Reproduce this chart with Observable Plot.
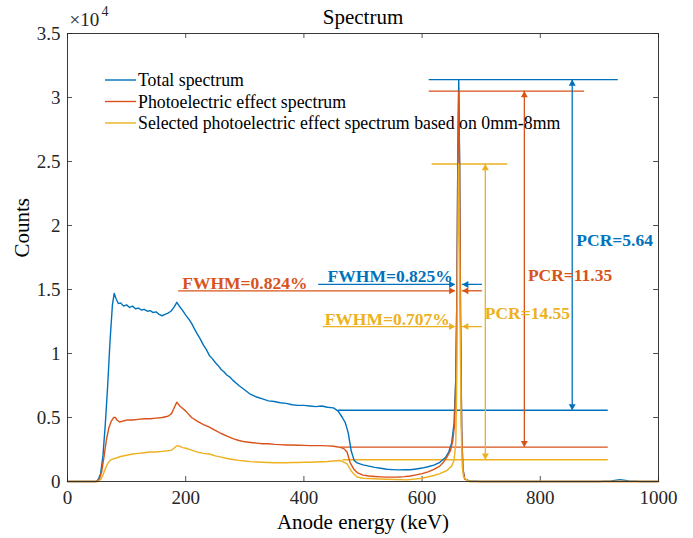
<!DOCTYPE html>
<html>
<head>
<meta charset="utf-8">
<script src="https://cdn.jsdelivr.net/npm/d3@7"></script>
<script src="https://cdn.jsdelivr.net/npm/@observablehq/plot@0.6"></script>
<style>
  body { margin: 0; background: #fff; }
  #chart svg { display: block; }
</style>
</head>
<body>
<div id="chart"></div>
<script>
// ---- Spectrum data (anode energy in keV, counts) ----
const totalE = [0, 48, 52, 56, 60, 64, 68, 72, 76, 79, 82, 86, 90, 95, 100, 105, 110, 115, 120, 125, 130, 135, 140, 145, 150, 155, 160, 165, 170, 175, 180, 185, 190, 195, 200, 205, 210, 215, 220, 225, 230, 235, 240, 245, 250, 255, 260, 265, 270, 275, 280, 290, 300, 310, 320, 330, 340, 350, 360, 370, 380, 390, 400, 410, 420, 430, 440, 450, 458, 465, 470, 475, 480, 485, 490, 500, 510, 520, 530, 540, 550, 560, 570, 580, 590, 600, 610, 620, 630, 640, 645, 650, 654, 657, 659, 660.5, 662, 663.5, 665, 667, 669, 672, 680, 700, 900, 920, 935, 950, 970, 1000];
const totalC = [0, 0, 150, 600, 2000, 4500, 7500, 11000, 13800, 14700, 14300, 13900, 13950, 13700, 13800, 13600, 13700, 13500, 13550, 13400, 13450, 13300, 13350, 13200, 13250, 13050, 12950, 13050, 13150, 13300, 13600, 14000, 13650, 13350, 13000, 12700, 12350, 11900, 11500, 11100, 10650, 10300, 9850, 9600, 9300, 9050, 8750, 8550, 8300, 8150, 7900, 7500, 7150, 6800, 6600, 6450, 6300, 6250, 6150, 6100, 6000, 5950, 5950, 5900, 5850, 5900, 5800, 5750, 5500, 5000, 4600, 3800, 2400, 1650, 1450, 1300, 1200, 1100, 1030, 960, 930, 910, 915, 920, 980, 1050, 1150, 1280, 1500, 1900, 2300, 3000, 4500, 8000, 15000, 26000, 31400, 25000, 13000, 4000, 1000, 200, 50, 0, 0, 50, 150, 50, 0, 0];

const photoE = [0, 50, 54, 58, 62, 66, 70, 74, 78, 81, 84, 88, 92, 96, 100, 110, 120, 130, 140, 150, 160, 170, 176, 180, 185, 190, 195, 200, 210, 220, 230, 240, 250, 260, 270, 280, 290, 300, 310, 320, 330, 340, 350, 360, 370, 380, 390, 400, 410, 420, 430, 440, 450, 458, 463, 468, 473, 478, 484, 490, 500, 510, 520, 530, 540, 550, 560, 570, 580, 590, 600, 610, 620, 630, 636, 642, 648, 652, 655, 657, 659, 660.5, 662, 663.5, 665, 667, 669, 672, 680, 1000];
const photoC = [0, 0, 200, 800, 2000, 3300, 4200, 4700, 5000, 5000, 4800, 4650, 4700, 4750, 4800, 4800, 4850, 4900, 4900, 4950, 5000, 5100, 5300, 5700, 6200, 5900, 5700, 5500, 5000, 4700, 4450, 4250, 4000, 3750, 3550, 3350, 3200, 3100, 3050, 3000, 2950, 2950, 2900, 2880, 2850, 2850, 2830, 2820, 2800, 2800, 2800, 2780, 2750, 2700, 2650, 2550, 2300, 1500, 1000, 700, 500, 430, 390, 360, 340, 340, 350, 380, 430, 520, 620, 750, 950, 1200, 1500, 1900, 2400, 3200, 4500, 8000, 15000, 25500, 30500, 24500, 13000, 4000, 1000, 200, 0, 0];

const selE = [0, 52, 56, 60, 64, 68, 72, 76, 80, 90, 100, 110, 120, 130, 140, 150, 160, 170, 176, 180, 185, 190, 195, 200, 210, 220, 230, 240, 250, 260, 270, 280, 290, 300, 310, 320, 330, 340, 350, 360, 370, 380, 390, 400, 410, 420, 430, 440, 450, 462, 468, 473, 479, 484, 490, 500, 518, 540, 575, 600, 620, 630, 642, 650, 654, 657, 659, 660.3, 662, 663.3, 664.4, 666, 668, 670, 673, 678, 682, 1000];
const selC = [0, 0, 150, 500, 1000, 1400, 1650, 1750, 1800, 1950, 2050, 2150, 2200, 2250, 2300, 2300, 2350, 2400, 2450, 2600, 2800, 2750, 2650, 2600, 2450, 2300, 2200, 2150, 2000, 1900, 1800, 1720, 1650, 1600, 1550, 1520, 1500, 1480, 1470, 1460, 1470, 1480, 1480, 1500, 1500, 1520, 1540, 1560, 1600, 1640, 1500, 1380, 900, 600, 350, 250, 210, 170, 130, 250, 470, 620, 860, 1200, 1640, 3000, 9000, 18000, 24800, 18000, 12400, 4500, 1200, 400, 200, 50, 0, 0];

// ---- Series meta ----
const seriesNames = ["Total spectrum", "Photoelectric effect spectrum", "Selected photoelectric effect spectrum based on 0mm-8mm"];
const seriesColors = ["#0072BD", "#D95319", "#EDB120"];

// ---- Peak-to-Compton ratio annotations ----
const peakCounts = [31400, 30500, 24800];
const pcrValues = [5.64, 11.35, 14.55];
const peakLineFrom = [612, 612, 617];
const peakLineTo = [932, 875, 745];
const valleyLineFrom = [458, 462, 466];
const valleyLineTo = [915, 915, 915];
const pcrArrowX = [854, 773, 707];
const pcrLabelX = [861, 779, 706];
const pcrLabelY = [18800, 16100, 13100];

// ---- FWHM annotations ----
const fwhmValues = ["0.825", "0.824", "0.707"];
const fwhmY = [15400, 14900, 12100];
const fwhmLeftFrom = [425, 188, 433];
const fwhmLeftTip = [656, 656, 656];
const fwhmRightFrom = [702, 702, 702];
const fwhmRightTip = [668, 668, 668];
const fwhmLabelX = [546, 300, 541];

const xTicks = [0, 200, 400, 600, 800, 1000];
const yTicks = [0, 5000, 10000, 15000, 20000, 25000, 30000, 35000];

// ---- Build tables ----
const rows = (E, C) => E.map((e, i) => ({e, c: C[i]}));
const curves = [rows(totalE, totalC), rows(photoE, photoC), rows(selE, selC)];

const pcr = seriesColors.map((color, i) => ({
  color,
  peak: peakCounts[i],
  valley: peakCounts[i] / pcrValues[i],
  p1: peakLineFrom[i], p2: peakLineTo[i],
  v1: valleyLineFrom[i], v2: valleyLineTo[i],
  ax: pcrArrowX[i],
  lx: pcrLabelX[i], ly: pcrLabelY[i],
  label: "PCR=" + pcrValues[i].toFixed(2)
}));

const fwhm = seriesColors.map((color, i) => ({
  color,
  y: fwhmY[i],
  l1: fwhmLeftFrom[i], l2: fwhmLeftTip[i],
  r1: fwhmRightFrom[i], r2: fwhmRightTip[i],
  lx: fwhmLabelX[i],
  label: "FWHM=" + fwhmValues[i] + "%"
}));

// ---- Layout ----
const W = 693, H = 538;
const mL = 67, mR = 35, mT = 33, mB = 57;
const iW = W - mL - mR, iH = H - mT - mB;
const ink = "#262626";
const serif = "'Liberation Serif', 'Times New Roman', serif";
const tick = 5;
const headR = 2.6;
const headOff = 2 * Math.sqrt(Math.PI * headR * headR / (Math.sqrt(3) * 3));

const chart = Plot.plot({
  width: W, height: H,
  marginLeft: mL, marginRight: mR, marginTop: mT, marginBottom: mB,
  style: {fontFamily: serif, background: "white", color: ink},
  x: {domain: [0, 1000]},
  y: {domain: [0, 35000]},
  color: {type: "identity"},
  marks: [
    Plot.axisX(xTicks, {tickSize: 0, tickPadding: 9, fontSize: 19, label: null, fill: ink, tickFormat: d => String(d)}),
    Plot.axisY(yTicks, {tickSize: 0, tickPadding: 7, fontSize: 19, label: null, fill: ink, tickFormat: d => String(d / 1e4)}),
    // inward ticks on all four sides
    Plot.tickX(xTicks, {x: d => d, insetTop: iH - tick, stroke: ink, strokeWidth: 0.8}),
    Plot.tickX(xTicks, {x: d => d, insetBottom: iH - tick, stroke: ink, strokeWidth: 0.8}),
    Plot.tickY(yTicks, {y: d => d, insetRight: iW - tick, stroke: ink, strokeWidth: 0.8}),
    Plot.tickY(yTicks, {y: d => d, insetLeft: iW - tick, stroke: ink, strokeWidth: 0.8}),

    // PCR reference lines and double arrows
    Plot.ruleY(pcr, {y: "peak", x1: "p1", x2: "p2", stroke: "color", strokeWidth: 1.4}),
    Plot.ruleY(pcr, {y: "valley", x1: "v1", x2: "v2", stroke: "color", strokeWidth: 1.4}),
    Plot.ruleX(pcr, {x: "ax", y1: "valley", y2: "peak", stroke: "color", strokeWidth: 1.3}),
    Plot.dot(pcr, {x: "ax", y: "peak", symbol: "triangle", r: headR, fill: "color", stroke: null, dy: headOff}),
    Plot.dot(pcr, {x: "ax", y: "valley", symbol: "triangle", r: headR, rotate: 180, fill: "color", stroke: null, dy: -headOff}),

    // spectra
    ...curves.map((d, i) => Plot.line(d, {x: "e", y: "c", stroke: seriesColors[i], strokeWidth: 1.4})),

    // FWHM arrows
    Plot.ruleY(fwhm, {y: "y", x1: "l1", x2: "l2", stroke: "color", strokeWidth: 1.3}),
    Plot.ruleY(fwhm, {y: "y", x1: "r1", x2: "r2", stroke: "color", strokeWidth: 1.3}),
    Plot.dot(fwhm, {x: "l2", y: "y", symbol: "triangle", r: headR, rotate: 90, fill: "color", stroke: null, dx: -headOff}),
    Plot.dot(fwhm, {x: "r2", y: "y", symbol: "triangle", r: headR, rotate: -90, fill: "color", stroke: null, dx: headOff}),

    // annotation labels
    Plot.text(fwhm, {x: "lx", y: "y", text: "label", fill: "color", fontWeight: "bold", fontSize: 17.5, lineAnchor: "bottom", dy: -2}),
    Plot.text(pcr, {x: "lx", y: "ly", text: "label", fill: "color", fontWeight: "bold", fontSize: 17.5, textAnchor: "start"}),

    Plot.frame({stroke: ink, strokeWidth: 0.9}),

    // titles
    Plot.text(["Spectrum"], {frameAnchor: "top", lineAnchor: "middle", dy: -16, fontSize: 21, fill: "#000"}),
    Plot.text(["Anode energy (keV)"], {frameAnchor: "bottom", lineAnchor: "middle", dy: 41, fontSize: 21, fill: "#000"}),
    Plot.text(["Counts"], {frameAnchor: "left", lineAnchor: "middle", rotate: -90, dx: -45, fontSize: 21, fill: "#000"}),
    Plot.text(["\u00d710"], {frameAnchor: "top-left", lineAnchor: "middle", textAnchor: "start", dx: 2, dy: -14, fontSize: 19, fill: ink}),
    Plot.text(["4"], {frameAnchor: "top-left", lineAnchor: "middle", textAnchor: "start", dx: 34, dy: -22, fontSize: 14, fill: ink})
  ]
});

// legend (no box), inside the axes at upper left
const svg = d3.select(chart);
const lg = svg.append("g").attr("font-family", serif).attr("font-size", 17.8).attr("text-anchor", "start");
seriesNames.forEach((name, i) => {
  const y = 80 + i * 21.5;
  lg.append("line").attr("x1", 105).attr("x2", 136).attr("y1", y).attr("y2", y)
    .attr("stroke", seriesColors[i]).attr("stroke-width", 1.4);
  lg.append("text").attr("x", 138).attr("y", y).attr("dy", "0.35em").attr("fill", "#000").text(name);
});

document.getElementById("chart").append(chart);
</script>
</body>
</html>
